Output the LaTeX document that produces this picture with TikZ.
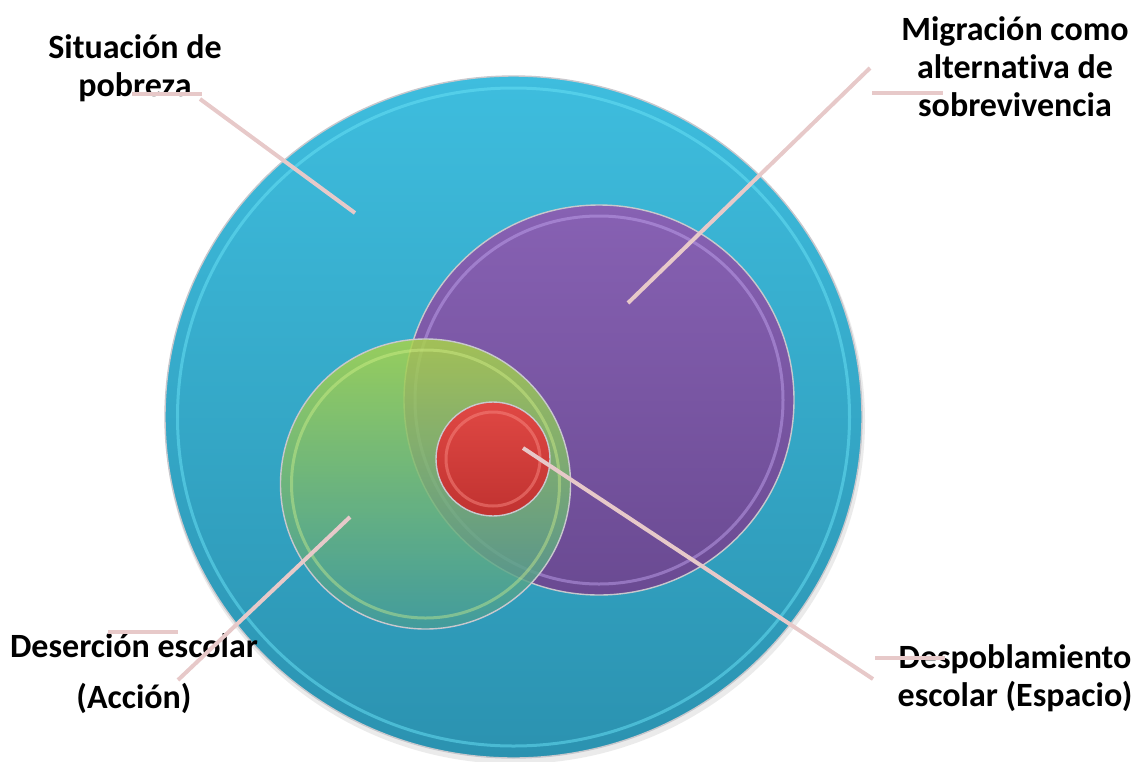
\documentclass[tikz,border=0pt]{standalone}
\usepackage{fontspec}
\setmainfont[Ligatures=NoCommon]{Carlito}
\usetikzlibrary{shapes.geometric}
\definecolor{blueT}{RGB}{62,189,222}
\definecolor{blueB}{RGB}{43,146,176}
\definecolor{blueHi}{RGB}{105,226,246}
\definecolor{purT}{RGB}{135,97,179}
\definecolor{purB}{RGB}{106,74,146}
\definecolor{purHi}{RGB}{190,160,235}
\definecolor{grnT}{RGB}{170,212,72}
\definecolor{grnB}{RGB}{70,156,152}
\definecolor{grnHi}{RGB}{215,245,140}
\definecolor{redT}{RGB}{224,72,68}
\definecolor{redB}{RGB}{192,50,48}
\definecolor{redHi}{RGB}{248,135,128}
\definecolor{rimgray}{RGB}{200,200,205}
\definecolor{lead}{RGB}{231,201,201}
\begin{document}
\begin{tikzpicture}[x=1pt,y=-1pt,
  disc/.style={inner sep=0pt, outer sep=0pt, draw=rimgray, line width=1.4pt},
  rim/.style={line width=3pt, opacity=0.5},
  lbl/.style={font=\fontsize{34}{38}\selectfont\bfseries, align=center, anchor=north, inner sep=0pt, text=black},
  leader/.style={draw=lead, line width=4pt}]
\useasboundingbox (0,0) rectangle (1138,761);
% outer disc: poverty
\fill[black, opacity=0.08] (515,421) ellipse (350pt and 343pt);
\node[disc, ellipse, minimum width=697pt, minimum height=682pt,
      top color=blueT, bottom color=blueB] (pob) at (513.5,417) {};
\draw[rim, draw=blueHi] (pob.center) ellipse (336pt and 329pt);
% migration disc
\node[disc, circle, minimum size=390pt, top color=purT, bottom color=purB] (mig) at (599,400) {};
\draw[rim, draw=purHi] (mig.center) circle [radius=184pt];
% school dropout disc
\node[disc, circle, minimum size=290pt, top color=grnT, bottom color=grnB,
      fill opacity=0.84] (des) at (425.5,484) {};
\draw[rim, draw=grnHi, opacity=0.4] (des.center) circle [radius=134pt];
% depopulation disc
\node[disc, circle, minimum size=114pt, top color=redT, bottom color=redB] (dsp) at (493,459) {};
\draw[rim, draw=redHi, opacity=0.5] (dsp.center) circle [radius=47pt];
% labels
\node[lbl] (tpob) at (135,30) {\rule{0pt}{28pt}Situación de\\pobreza};
\node[lbl] (tmig) at (1015,12) {\rule{0pt}{28pt}Migración como\\alternativa de\\sobrevivencia};
\node[lbl] (tdes) at (134,629) {\rule{0pt}{28pt}Deserción escolar\\[13pt](Acción)};
\node[lbl] (tdsp) at (1015,640) {\rule{0pt}{28pt}Despoblamiento\\escolar (Espacio)};
% leader points
\coordinate (pobIn) at (355,213);
\coordinate (pobA) at (132,94);
\coordinate (pobB) at (202,94);
\coordinate (pobC) at (200,99);
\coordinate (migIn) at (628,303);
\coordinate (migC) at (870,68);
\coordinate (migA) at (872,93);
\coordinate (migB) at (943,93);
\coordinate (desIn) at (350,517);
\coordinate (desC) at (178,680);
\coordinate (desA) at (108,632);
\coordinate (desB) at (178,632);
\coordinate (dspIn) at (523,448);
\coordinate (dspC) at (873,679);
\coordinate (dspA) at (875,658);
\coordinate (dspB) at (945,658);
% leaders
\draw[leader] (pobA) -- (pobB);
\draw[leader] (pobC) -- (pobIn);
\draw[leader] (migA) -- (migB);
\draw[leader] (migC) -- (migIn);
\draw[leader] (desA) -- (desB);
\draw[leader] (desC) -- (desIn);
\draw[leader] (dspA) -- (dspB);
\draw[leader] (dspC) -- (dspIn);
\end{tikzpicture}
\end{document}
